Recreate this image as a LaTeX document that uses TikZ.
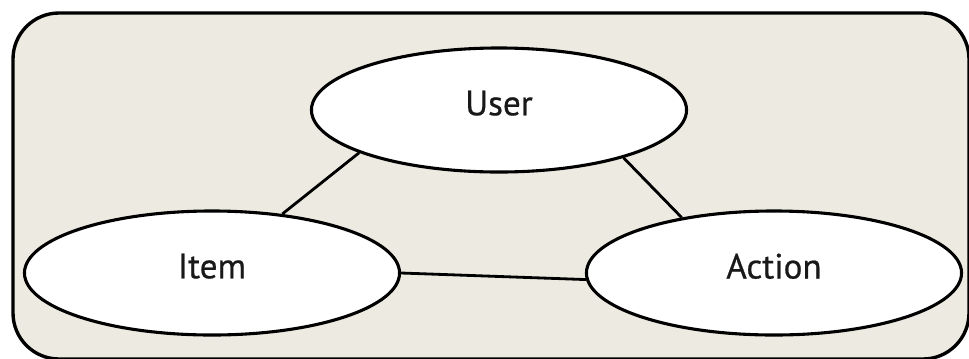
\documentclass[tikz,border=0pt]{standalone}
\usepackage{fontspec}
\newfontfamily\entityfont{PT Sans}[FakeBold=0.6]
\usetikzlibrary{shapes.geometric}
\definecolor{paper}{RGB}{237,235,225}
\definecolor{ink}{RGB}{25,25,25}
\begin{document}
\begin{tikzpicture}[x=0.025cm,y=-0.025cm,
	entity/.style={ellipse,draw,line width=2.2pt,fill=white,inner sep=0pt,
		minimum width=9.375cm,minimum height=3.1cm,text depth=0.35cm,
		font=\entityfont\fontsize{25}{30}\selectfont,text=ink},
	link/.style={line width=2pt}]
	\useasboundingbox (0,0) rectangle (969,358);
	\draw[line width=2.4pt,rounded corners=1.15cm,fill=paper] (13,13) rectangle (969,359);
	% the three entities
	\node[entity] (user) at (499,110) {User};
	\node[entity] (item) at (212,273) {Item};
	\node[entity] (action) at (774,273) {Action};
	% relations
	\draw[link] (user.197)--(item.40) (user.339)--(action.149) (item.east)--(action.182);
\end{tikzpicture}
\end{document}
